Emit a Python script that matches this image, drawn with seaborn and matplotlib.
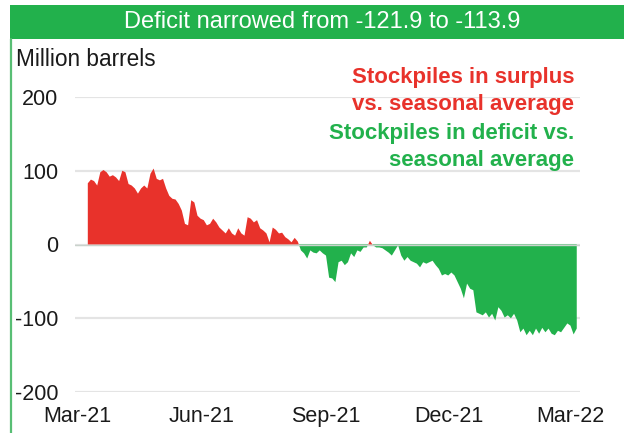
import numpy as np
import pandas as pd
import matplotlib
matplotlib.use("Agg")
import matplotlib.pyplot as plt
import matplotlib.dates as mdates
from matplotlib.patches import Rectangle
from matplotlib.lines import Line2D
import seaborn as sns

# Stocks vs. seasonal average, million barrels (Mar-2021 .. Mar-2022)
start_date = "2021-03-09"
end_date = "2022-03-06"
stock_gap = [
    83, 88, 86, 80, 98, 101, 98, 92, 94, 91, 86, 100, 98, 82, 80, 76, 69, 76, 80, 76,
    96, 103, 89, 87, 89, 76, 66, 62, 61, 55, 46, 28, 26, 60, 57, 39, 35, 33, 26, 28,
    35, 30,
    23, 19, 15, 22, 15, 12, 22, 15, 12, 37, 35, 30, 33, 22, 19, 15, 3, 23, 20, 15,
    16, 10, 7, 3, 9, 4,
    -8, -12, -19, -8, -11, -12, -8, -12, -15, -45, -46, -51, -24, -22, -28, -24, -12,
    -17, -8, -10, -4, -4, 5, -1, -4, -4, -5, -8, -11, -15, -8, -1, -15, -22, -17, -22,
    -24, -26, -31, -24, -26, -24,
    -22, -28, -33, -42, -40, -42, -38, -42, -51, -60, -73, -53, -60, -62, -92, -94,
    -96, -92, -99, -94, -103, -85, -90, -99, -96, -100, -94, -103, -119, -114, -123,
    -117, -123, -114, -121, -113, -119, -114, -121, -123, -117, -119, -113, -107, -110,
    -121.9, -113.9,
]
tick_dates = ["2021-03-01", "2021-06-01", "2021-09-01", "2021-12-01", "2022-03-01"]
tick_labels = ["Mar-21", "Jun-21", "Sep-21", "Dec-21", "Mar-22"]
y_ticks = [-200, -100, 0, 100, 200]

title = "Deficit narrowed from -121.9 to -113.9"
surplus_note = ["Stockpiles in surplus", "vs. seasonal average"]
deficit_note = ["Stockpiles in deficit vs.", "seasonal average"]

RED = "#E8322B"
GREEN = "#22B14C"

sns.set_style("white")
plt.rcParams["font.family"] = ["Liberation Sans", "DejaVu Sans"]

W, H = 624, 433
fig = plt.figure(figsize=(W / 100, H / 100), dpi=100)
fig.patch.set_facecolor("white")

df = pd.DataFrame({
    "date": pd.date_range(start_date, end_date, periods=len(stock_gap)),
    "gap": stock_gap,
})

ax = fig.add_axes([75 / W, 41 / H, 505 / W, 295 / H])
sns.lineplot(data=df, x="date", y="gap", ax=ax, linewidth=0, legend=False)

x = mdates.date2num(df["date"])
y = df["gap"].to_numpy(dtype=float)
ax.fill_between(x, 0, y, where=y >= 0, interpolate=True, color=RED, linewidth=0, zorder=2)
ax.fill_between(x, 0, y, where=y <= 0, interpolate=True, color=GREEN, linewidth=0, zorder=2)
ax.axhline(0, color="#C9D3CC", linewidth=1.0, zorder=3)

tick_nums = [mdates.date2num(pd.Timestamp(d)) for d in tick_dates]
per_px = (tick_nums[-1] - tick_nums[0]) / 493.0
ax.set_xlim(tick_nums[0] - 2 * per_px, tick_nums[0] + 503 * per_px)
ax.set_xticks(tick_nums)
ax.set_xticklabels(tick_labels)
ax.set_ylim(-200, 200)
ax.set_yticks(y_ticks)
ax.set_yticklabels([str(v) for v in y_ticks])
ax.set_xlabel("")
ax.set_ylabel("")

ax.grid(axis="y", color="#E4E4E4", linewidth=1.6)
ax.grid(axis="x", visible=False)
ax.set_axisbelow(True)
for s in ax.spines.values():
    s.set_visible(False)
ax.tick_params(axis="y", length=0, pad=12, labelsize=15.5, labelcolor="#1a1a1a")
ax.tick_params(axis="x", length=0, pad=10, labelsize=15.5, labelcolor="#1a1a1a")

# header band and left frame line
fig.add_artist(Rectangle((10 / W, 1 - 39 / H), 614 / W, 34 / H,
                         transform=fig.transFigure, color=GREEN, linewidth=0))
fig.text(322 / W, 1 - 22 / H, title, ha="center", va="center",
         color="white", fontsize=17)
fig.add_artist(Line2D([10.5 / W, 10.5 / W], [0, 1 - 39 / H],
                      transform=fig.transFigure, color="#58BE74", linewidth=1.6))

fig.text(16 / W, 1 - 60 / H, "Million barrels", ha="left", va="center",
         fontsize=16.3, color="#1a1a1a")

for i, line in enumerate(surplus_note):
    fig.text(574 / W, 1 - (77 + 27.5 * i) / H, line, ha="right", va="center",
             fontsize=16, fontweight="bold", color=RED)
for i, line in enumerate(deficit_note):
    fig.text(574 / W, 1 - (133 + 27.5 * i) / H, line, ha="right", va="center",
             fontsize=16, fontweight="bold", color=GREEN)

fig.savefig("out.png", dpi=100)
